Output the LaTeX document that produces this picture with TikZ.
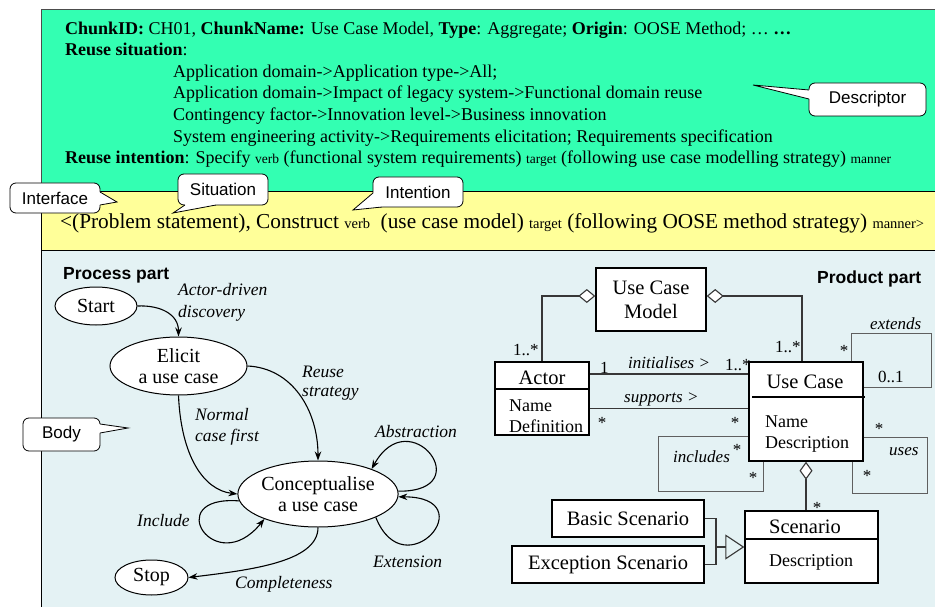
\documentclass[tikz,border=0pt]{standalone}
\usepackage{fontspec}
\setmainfont{Liberation Serif}
\setsansfont{Liberation Sans}
\usetikzlibrary{shapes.geometric,arrows.meta,calc}
\definecolor{descgreen}{RGB}{51,255,178}
\definecolor{ifyellow}{RGB}{255,255,153}
\definecolor{bodyblue}{RGB}{228,242,244}
\definecolor{linkgray}{RGB}{55,55,55}
\definecolor{loopgray}{RGB}{95,95,95}
\newcommand{\fsz}[2]{\fontsize{#1}{#2}\selectfont}
\newcommand{\tagw}[1]{{\fsz{13.5}{15}#1}}
\newcommand{\tagy}[1]{{\fsz{14.5}{16}#1}}

\begin{document}
\begin{tikzpicture}[x=1pt,y=-1pt,
  lbl/.style={inner sep=0pt, anchor=base west},
  sertext/.style={lbl, font=\fsz{18}{21}},
  flowlbl/.style={lbl, font=\itshape\fsz{17.5}{21}},
  multlbl/.style={lbl, font=\fsz{17}{20}},
  assoclbl/.style={lbl, font=\itshape\fsz{17}{20}},
  starlbl/.style={inner sep=0pt, anchor=base, font=\fsz{17}{20}},
  calloutbox/.style={draw, fill=white, rounded corners=6pt, line width=0.8pt,
    inner sep=0pt, font=\sffamily\fsz{17}{20}},
  tailline/.style={line width=0.8pt, line join=miter},
  state/.style={ellipse, draw, fill=white, line width=1pt, inner sep=0pt,
    align=center, font=\fsz{20}{21}},
  flow/.style={line width=1.1pt, -{Stealth[length=9pt,width=6.5pt]}},
  cls/.style={draw, line width=1.4pt, fill=white, inner sep=0pt},
  clsname/.style={inner sep=0pt, anchor=base, font=\fsz{20.5}{24}},
  clsattr/.style={lbl, font=\fsz{18}{21}},
  divider/.style={line width=1.4pt},
  assoc/.style={draw=linkgray, line width=1.1pt},
  selfloop/.style={draw=loopgray, line width=0.9pt},
  aggr/.style={assoc, {Diamond[open, fill=white, length=17pt, width=14pt, line width=1.1pt]}-},
  parttitle/.style={lbl, font=\sffamily\bfseries\fsz{17.5}{20}}
]
\useasboundingbox (0,0) rectangle (935,607);
\clip (0,0) rectangle (935,607);

% ---------- the three layers of the chunk ----------
\path[fill=descgreen, draw=black!70, line width=1pt] (41,10) rectangle (960,192);
\path[fill=ifyellow, draw=black, line width=1pt] (41,192) rectangle (960,250.5);
\path[fill=bodyblue, draw=black, line width=1pt] (41,250.5) rectangle (960,630);

% ---------- descriptor ----------
\node[sertext] (d1) at (65,35) {\textbf{ChunkID:} CH01, \textbf{ChunkName:} Use Case Model, \textbf{Type}: Aggregate; \textbf{Origin}: OOSE Method; … \textbf{…}};
\node[sertext] (d2) at (65,56) {\textbf{Reuse situation}:};
\node[sertext] (d3) at (173,77.5) {Application domain->Application type->All;};
\node[sertext] (d4) at (173,99) {Application domain->Impact of legacy system->Functional domain reuse};
\node[sertext] (d5) at (173,121) {Contingency factor->Innovation level->Business innovation};
\node[sertext] (d6) at (173,143) {System engineering activity->Requirements elicitation; Requirements specification};
\node[sertext] (d7) at (65,164) {\textbf{Reuse intention}: Specify \tagw{verb} (functional system requirements) \tagw{target} (following use case modelling strategy) \tagw{manner}};

% ---------- interface ----------
\node[lbl, font=\fsz{21.3}{24}] (intf) at (60,229) {<(Problem statement), Construct \tagy{verb}\ \ (use case model) \tagy{target} (following OOSE method strategy) \tagy{manner>}};

% ---------- process part ----------
\node[parttitle] (proctitle) at (63,279) {Process part};

\node[state, minimum width=82pt, minimum height=38pt] (start) at (96,306) {Start};
\node[state, minimum width=137pt, minimum height=58pt] (elicit) at (178.5,366) {Elicit\\a use case};
\node[state, minimum width=160pt, minimum height=66pt] (concept) at (318,494) {Conceptualise\\a use case};
\node[state, minimum width=73pt, minimum height=35pt] (stop) at (151.5,577.5) {Stop};

\draw[flow] (start.east) .. controls (160,305) and (178.5,314) .. (elicit.north);
\draw[flow] (elicit.south) .. controls (181,455) and (203,490) .. (concept.west);
\draw[flow] (elicit.east) .. controls (292,368) and (318,410) .. (concept.north);
\draw[flow] (concept.2) .. controls (480,492) and (410,400) .. (concept.25);
\draw[flow] (concept.-22) .. controls (405,590) and (485,497) .. (concept.-2);
\draw[flow] (concept.185) .. controls (160,495) and (215,580) .. (concept.205);
\draw[flow] (concept.south) .. controls (318,562) and (250,570) .. (stop.east);

\node[flowlbl] (l1a) at (178,295) {Actor-driven};
\node[flowlbl] (l1b) at (178,317) {discovery};
\node[flowlbl] (l2a) at (195,420) {Normal};
\node[flowlbl] (l2b) at (195,441) {case first};
\node[flowlbl] (l3a) at (302,377) {Reuse};
\node[flowlbl] (l3b) at (302,396) {strategy};
\node[flowlbl] (l4) at (375,437) {Abstraction};
\node[flowlbl] (l5) at (373,567) {Extension};
\node[flowlbl] (l6) at (137,526) {Include};
\node[flowlbl] (l7) at (235,588) {Completeness};

% ---------- product part ----------
\node[parttitle] (prodtitle) at (817,283) {Product part};

\node[cls, minimum width=110pt, minimum height=63pt, align=center, font=\fsz{20.5}{24}] (ucm) at (651,299.5) {Use Case\\Model};

\node[cls, minimum width=94pt, minimum height=73pt] (actor) at (542,398.5) {};
\draw[divider] (495,389) -- (589,389);
\node[clsname] (actorname) at (542,384) {Actor};
\node[clsattr] (actora1) at (509,411) {Name};
\node[clsattr] (actora2) at (509,432) {Definition};

\node[cls, minimum width=114pt, minimum height=99pt] (uc) at (806,411.5) {};
\draw[divider] (752,397) -- (865,397);
\node[clsname] (ucname) at (805,388) {Use Case};
\node[clsattr] (uca1) at (765,427) {Name};
\node[clsattr] (uca2) at (765,448) {Description};

\node[cls, minimum width=133pt, minimum height=72pt] (scen) at (811.5,547) {};
\draw[divider] (745,539) -- (878,539);
\node[clsname] (scenname) at (805,533) {Scenario};
\node[clsattr] (scena1) at (769,566) {Description};

\node[cls, minimum width=152pt, minimum height=37pt, font=\fsz{20.5}{24}] (basic) at (628,518.5) {Basic Scenario};
\node[cls, minimum width=192pt, minimum height=37pt, font=\fsz{20.5}{24}] (exc) at (608,564.5) {Exception Scenario};

% aggregations
\draw[aggr] ([yshift=3.5pt]ucm.west) -| (actor.north);
\draw[aggr] ([yshift=3.5pt]ucm.east) -| ([xshift=-4pt]uc.north);
\draw[assoc, {Diamond[open, fill=white, length=18pt, width=13pt, line width=1.1pt]}-] (uc.south) -- (uc.south |- scen.north);

% associations
\coordinate (inirow) at (0,374);
\coordinate (suprow) at (0,408.5);
\draw[assoc] (actor.east |- inirow) -- (uc.west |- inirow);
\draw[assoc] (actor.east |- suprow) -- (uc.west |- suprow);

% reflexive associations
\coordinate (extcorner) at (931,333);
\coordinate (inccorner) at (658,491);
\coordinate (usecorner) at (927,493);
\draw[selfloop] ([xshift=45pt]uc.north) |- (extcorner) |- ([yshift=24.5pt]uc.east);
\draw[selfloop] ([yshift=-24.5pt]uc.west) -| (inccorner) -| ([xshift=-43pt]uc.south);
\draw[selfloop] ([yshift=-26pt]uc.east) -| (usecorner) -| ([xshift=46pt]uc.south);

% generalisation
\coordinate (genjoin) at (716,547);
\draw[assoc] (basic.east) -| (genjoin);
\draw[assoc] (exc.east) -| (genjoin);
\draw[assoc, -{Triangle[open, length=19pt, width=25pt, line width=1.1pt]}] (genjoin) -- (scen.west);

% multiplicities and role names
\node[multlbl] (m1) at (513,355) {1..*};
\node[multlbl] (m2) at (775,352) {1..*};
\node[multlbl] (m3) at (600,373) {1};
\node[multlbl] (m4) at (725,370) {1..*};
\node[assoclbl] (a1) at (628,368) {initialises >};
\node[assoclbl] (a2) at (624,402) {supports >};
\node[starlbl] (s1) at (602,428) {*};
\node[starlbl] (s2) at (735,428) {*};
\node[assoclbl] (a3) at (870,329) {extends};
\node[starlbl] (s3) at (844,356) {*};
\node[multlbl] (m5) at (878,382) {0..1};
\node[assoclbl] (a4) at (673,462) {includes};
\node[starlbl] (s4) at (737,455) {*};
\node[starlbl] (s5) at (753,483) {*};
\node[assoclbl] (a5) at (889,455) {uses};
\node[starlbl] (s6) at (879,434) {*};
\node[starlbl] (s7) at (867,481) {*};
\node[starlbl] (s8) at (817,513) {*};

% ---------- callouts ----------
\node[calloutbox, minimum width=117pt, minimum height=33pt] (descriptor) at (867.5,99.5) {Descriptor};
\coordinate (desctip) at (753,85);
\fill[white] (809,90) -- (desctip) -- (809,99) -- (811,99) -- (811,90) -- cycle;
\draw[tailline] (809,90) -- (desctip) -- (809,99);

\node[calloutbox, minimum width=90pt, minimum height=30pt] (interface) at (55,198) {Interface};
\coordinate (intftip) at (117,202);
\fill[white] (100,192) -- (intftip) -- (100,205) -- (98,205) -- (98,192) -- cycle;
\draw[tailline] (100,192) -- (intftip) -- (100,205);

\node[calloutbox, minimum width=90pt, minimum height=31pt] (situation) at (223,189.5) {Situation};
\coordinate (sittip) at (173,213);
\fill[white] (185,205) -- (sittip) -- (216,205) -- (216,203) -- (185,203) -- cycle;
\draw[tailline] (185,205) -- (sittip) -- (216,205);

\node[calloutbox, minimum width=90pt, minimum height=30pt] (intention) at (418,192) {Intention};
\coordinate (inttip) at (353,210);
\fill[white] (373,193) -- (inttip) -- (382,207) -- (382,204) -- (376,193) -- cycle;
\draw[tailline] (373,193) -- (inttip) -- (382,207);

\node[calloutbox, minimum width=77pt, minimum height=33pt] (body) at (61.5,434.5) {Body};
\coordinate (bodytip) at (128,428);
\fill[white] (100,424) -- (bodytip) -- (100,433) -- (98,433) -- (98,424) -- cycle;
\draw[tailline] (100,424) -- (bodytip) -- (100,433);
\end{tikzpicture}
\end{document}
